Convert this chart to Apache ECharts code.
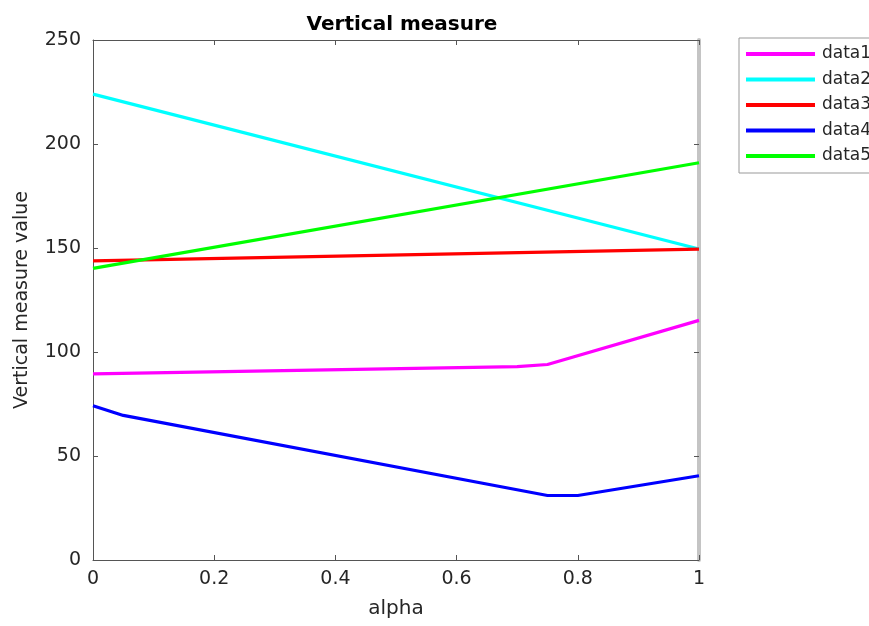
<!DOCTYPE html>
<html><head><meta charset="utf-8">
<script src="https://cdn.jsdelivr.net/npm/echarts@6/dist/echarts.min.js"></script>
<style>html,body{margin:0;padding:0;background:#fff}#c{width:869px;height:626px}</style>
</head><body><div id="c"></div>
<script>
var seriesNames = ['data1','data2','data3','data4','data5'];
var colors = ['#ff00ff','#00ffff','#ff0000','#0000ff','#00ff00'];
var data1 = [[0,89.5],[0.7,93],[0.75,94],[1,115.2]];
var data2 = [[0,224],[1,149.5]];
var data3 = [[0,143.8],[1,149.5]];
var data4 = [[0,74.2],[0.05,69.5],[0.75,31],[0.8,31],[1,40.5]];
var data5 = [[0,140.2],[1,191]];
var xTicks = [0,0.2,0.4,0.6,0.8,1];
var yTicks = [0,50,100,150,200,250];
var allData = [data1,data2,data3,data4,data5];
var font = 'DejaVu Sans';
var txt = '#262626';
var tickCol = '#555';
var chart = echarts.init(document.getElementById('c'));
chart.setOption({
  animation:false,
  title:{text:'Vertical measure',left:397,top:10,textAlign:'center',
    textStyle:{fontFamily:font,fontSize:20,fontWeight:'bold',color:'#000'}},
  grid:{left:93,right:170,top:40,bottom:66},
  legend:{orient:'vertical',left:739,top:38,itemWidth:69,itemHeight:4,itemGap:5.5,
    padding:[6,40,7,7],borderColor:'#999',borderWidth:1,
    icon:'rect',
    textStyle:{fontFamily:font,fontSize:17,lineHeight:20,color:txt,padding:[0,0,0,2]},
    data:seriesNames},
  xAxis:[{type:'value',min:0,max:1,interval:0.2,name:'alpha',nameLocation:'middle',nameGap:39,
    nameTextStyle:{fontFamily:font,fontSize:20,color:txt},
    axisLine:{onZero:false,lineStyle:{color:tickCol,width:1}},
    axisTick:{inside:true,length:5,lineStyle:{color:tickCol}},
    axisLabel:{fontFamily:font,fontSize:19,color:txt,margin:10,formatter:function(v){return String(+v.toFixed(1));}},
    splitLine:{show:false}},
   {type:'value',position:'top',min:0,max:1,interval:0.2,
    axisLine:{onZero:false,lineStyle:{color:tickCol,width:1}},
    axisTick:{inside:true,length:5,lineStyle:{color:tickCol}},
    axisLabel:{show:false},splitLine:{show:false}}],
  yAxis:[{type:'value',min:0,max:250,interval:50,name:'Vertical measure value',nameLocation:'middle',nameGap:61,
    nameTextStyle:{fontFamily:font,fontSize:19,color:txt},
    axisLine:{show:true,onZero:false,lineStyle:{color:tickCol,width:1}},
    axisTick:{show:true,inside:true,length:5,lineStyle:{color:tickCol}},
    axisLabel:{fontFamily:font,fontSize:19,color:txt,margin:12},
    splitLine:{show:false}},
   {type:'value',position:'right',min:0,max:250,interval:50,
    axisLine:{show:true,onZero:false,lineStyle:{color:'#c4c4c4',width:4}},
    axisTick:{show:true,inside:true,length:5,lineStyle:{color:tickCol}},
    axisLabel:{show:false},splitLine:{show:false}}],
  series:allData.map(function(d,i){return {name:seriesNames[i],type:'line',data:d,
    showSymbol:false,symbol:'none',color:colors[i],lineStyle:{width:3.2,color:colors[i]},itemStyle:{color:colors[i]}};})
});
</script></body></html>
